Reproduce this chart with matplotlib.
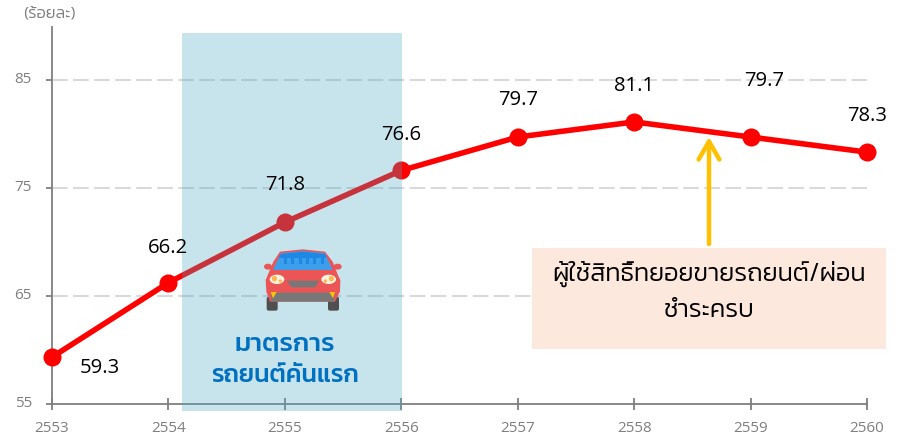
import matplotlib
matplotlib.use("Agg")
import matplotlib.pyplot as plt
from matplotlib.patches import Rectangle, Polygon, Ellipse, FancyBboxPatch
from matplotlib.transforms import Affine2D, ScaledTranslation

years = ["2553", "2554", "2555", "2556", "2557", "2558", "2559", "2560"]
values = [59.3, 66.2, 71.8, 76.6, 79.7, 81.1, 79.7, 78.3]
y_ticks = [55, 65, 75, 85]
# offset of each value label from its point, in pixels
label_dx = [48, 0, 0, 0, 0, 0, 14, 0]
label_dy = [-11, 35, 37, 35, 37, 36, 56, 36]

W, H = 899, 438
GREY = "#7f7f7f"

plt.rcParams["font.family"] = ["Open Sans", "Noto Sans", "DejaVu Sans"]
fig = plt.figure(figsize=(W / 100, H / 100), dpi=100)
ax = fig.add_axes([52 / W, (H - 403.5) / H, (867 - 52) / W, (403.5 - 27) / H])
ax.set_xlim(0, 7)
ax.set_ylim(55, 89.9)

# pixel coordinates, origin top left, for the decorations
px = Affine2D().scale(1, -1).translate(0, H)

x = list(range(len(years)))
ax.plot(x, values, color="#ff0000", lw=4, marker="o", ms=13, mew=0, clip_on=False, zorder=3)

for v in y_ticks[1:]:
    ax.axhline(v, color="#d9d9d9", lw=1.5, dashes=(7.5, 2.6), zorder=1)

for s in ["top", "right"]:
    ax.spines[s].set_visible(False)
for s in ["left", "bottom"]:
    ax.spines[s].set_color(GREY)
    ax.spines[s].set_linewidth(1.3)
ax.set_xticks(x, years)
ax.set_yticks(y_ticks)
ax.tick_params(axis="x", direction="inout", length=8.5, width=1.3, color=GREY,
               labelcolor=GREY, labelsize=11, pad=8)
ax.tick_params(axis="y", direction="out", length=4.5, width=1.3, color=GREY,
               labelcolor=GREY, labelsize=11, pad=10)
for lab in ax.get_yticklabels():
    lab.set_transform(lab.get_transform() + ScaledTranslation(0, 1.5 / 72, fig.dpi_scale_trans))

# shaded period sits over the line, that is why the line looks darker in it
ax.add_patch(Rectangle((182, 33), 220, 378, transform=px, facecolor="#4da8c5", alpha=0.31,
                       edgecolor="none", clip_on=False, zorder=4))

for xi, v, dx, dy in zip(x, values, label_dx, label_dy):
    ax.annotate(str(v), (xi, v), xytext=(dx * 0.72, dy * 0.72), textcoords="offset points",
                ha="center", va="center", fontsize=14.6, color="#000000", zorder=6)

fig.text(49, 14, "(ร้อยละ)", transform=px, ha="center", va="center", family="Kanit",
         weight=300, fontsize=11.8, color=GREY)


# car icon
def car(points):
    return [(180 + a / 3, 230 + b / 3) for a, b in points]


def add_poly(points, color):
    ax.add_patch(Polygon(car(points), closed=True, transform=px, facecolor=color,
                         edgecolor="none", clip_on=False, zorder=5))


def add_oval(cx, cy, w, h, color):
    (a, b), = car([(cx, cy)])
    ax.add_patch(Ellipse((a, b), w / 3, h / 3, transform=px, facecolor=color,
                         edgecolor="none", clip_on=False, zorder=5))


for left in (260, 444):
    a, b = car([(left, 200)])[0]
    ax.add_patch(FancyBboxPatch((a + 2, b + 2), 7, 10, boxstyle="round,pad=2", transform=px,
                                facecolor="#4f4f4f", edgecolor="none", clip_on=False, zorder=5))
add_oval(264, 110, 24, 18, "#ec5556")
add_oval(473, 110, 24, 18, "#ec5556")
add_poly([(257, 150), (262, 138), (280, 95), (300, 65), (368, 58), (435, 65), (458, 95), (475, 138),
          (481, 150), (480, 185), (465, 215), (270, 215), (259, 185)], "#ec5556")
add_poly([(279, 120), (302, 70), (368, 63), (435, 70), (458, 120)], "#3d9fec")
add_poly([(302, 72), (368, 65), (435, 72), (440, 84), (296, 84)], "#1e88e5")
for left in (312, 334, 356, 378, 400, 422):
    add_poly([(left, 84), (left + 9, 84), (left + 9, 102), (left, 102)], "#1e88e5")
add_poly([(320, 152), (418, 152), (405, 172), (335, 172)], "#777777")
add_poly([(272, 188), (465, 188), (462, 215), (275, 215)], "#777777")
add_poly([(272, 186), (290, 186), (279, 205)], "#ffc107")
add_poly([(465, 186), (448, 186), (459, 205)], "#ffc107")
add_oval(291, 148, 44, 28, "#fff4e0")
add_oval(446, 148, 44, 28, "#fff4e0")
add_oval(283, 146, 16, 16, "#ffb74d")
add_oval(301, 153, 10, 10, "#ffb74d")
add_oval(454, 146, 16, 16, "#ffb74d")
add_oval(436, 153, 10, 10, "#ffb74d")

ax.text(285, 345, "มาตรการ", transform=px, ha="center", va="center", family="Kanit",
        weight=500, fontsize=19, color="#0070c0", zorder=6)
ax.text(285, 376, "รถยนต์คันแรก", transform=px, ha="center", va="center", family="Kanit",
        weight=500, fontsize=18, color="#0070c0", zorder=6)

# note box and its arrow
ax.add_patch(Rectangle((532, 248), 354, 101, transform=px, facecolor="#fce8dc",
                       edgecolor="none", clip_on=False, zorder=4))
ax.text(709, 274, "ผู้ใช้สิทธิ์ทยอยขายรถยนต์/ผ่อน", transform=px, ha="center", va="center",
        family="Kanit", weight=300, fontsize=18.4, color="#000000", zorder=6)
ax.text(709, 311, "ชำระครบ", transform=px, ha="center", va="center",
        family="Kanit", weight=300, fontsize=18.4, color="#000000", zorder=6)
ax.annotate("", xy=(709, 137), xytext=(709, 244), xycoords=px, textcoords=px,
            arrowprops=dict(arrowstyle="->,head_length=1.3,head_width=0.75", color="#ffc000",
                            lw=3.2, shrinkA=0, shrinkB=0), zorder=6)

fig.savefig("out.png", dpi=100)
